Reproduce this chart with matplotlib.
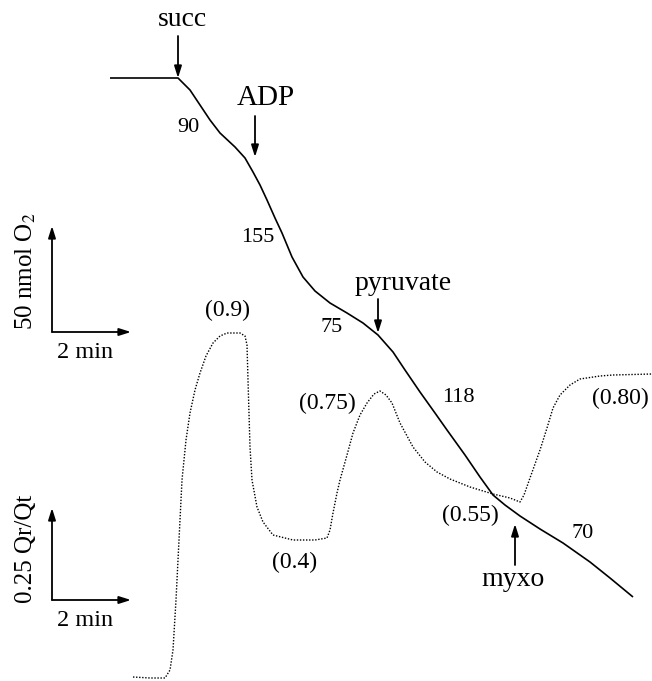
import matplotlib
matplotlib.use('Agg')
import matplotlib.pyplot as plt

plt.rcParams['font.family'] = ['Liberation Serif', 'DejaVu Serif']
plt.rcParams['mathtext.fontset'] = 'stix'

# traces (x = time axis, y = signal, image units)
o2_t = [110, 178, 190, 200, 210, 220, 235, 245, 253, 260, 267, 275, 282, 292,
        303, 315, 330, 347, 363, 378, 393, 405, 420, 435, 447, 465, 480, 493,
        505, 520, 540, 563, 590, 610, 633]
o2_y = [78, 78, 90, 105, 120, 133, 147, 158, 172, 185, 200, 218, 233, 257,
        277, 291, 303, 313, 323, 335, 352, 370, 392, 413, 430, 455, 477, 495,
        505, 516, 529, 543, 562, 578, 597]

q_t = [133, 150, 165, 170, 173, 176, 179, 182, 186, 190, 195, 200, 206, 213,
       220, 227, 240, 245, 247, 248, 250, 252, 257, 263, 273, 293, 315, 327,
       330, 333, 337, 340, 347, 353, 360, 367, 374, 380, 386, 392, 400, 413,
       425, 437, 450, 470, 493, 510, 520, 524, 530, 540, 547, 553, 560, 570,
       580, 600, 613, 652]
q_y = [677, 678, 678, 670, 650, 600, 540, 480, 440, 413, 390, 373, 356, 343,
       336, 333, 333, 336, 345, 380, 447, 480, 507, 522, 535, 540, 540, 538,
       530, 513, 493, 480, 455, 433, 415, 403, 394, 391, 395, 403, 423, 447,
       462, 472, 479, 487, 494, 498, 502, 495, 478, 450, 428, 408, 395, 385,
       379, 376, 375, 374]

rate_labels = ['90', '155', '75', '118', '70']
rate_pos = [(188, 127), (258, 237), (332, 328), (458, 398), (583, 533)]
ratio_labels = ['(0.9)', '(0.75)', '(0.4)', '(0.55)', '(0.80)']
ratio_pos = [(228, 310), (327, 403), (295, 562), (470, 515), (620, 398)]

# additions: name, arrow x, arrow tail y, arrow tip y, text x, text y
additions = [('succ', 178, 36, 78, 182, 19),
             ('ADP', 255, 116, 157, 266, 98),
             ('pyruvate', 378, 299, 333, 403, 283),
             ('myxo', 515, 565, 524, 513, 579)]

fig = plt.figure(figsize=(6.52, 6.81), dpi=100)
ax = fig.add_axes([0, 0, 1, 1])
ax.set_xlim(0, 652)
ax.set_ylim(681, 0)
ax.axis('off')

ax.plot(o2_t, o2_y, color='black', lw=1.2, solid_capstyle='butt')
ax.plot(q_t, q_y, color='black', lw=1.0, linestyle=(0, (1, 1.2)))

arr = dict(arrowstyle='-|>,head_length=0.7,head_width=0.22', color='black',
           lw=1.3, shrinkA=0, shrinkB=0)

for name, x, y0, y1, tx, ty in additions:
    ax.annotate('', xy=(x, y1), xytext=(x, y0), arrowprops=arr)
    ax.text(tx, ty, name, ha='center', va='center',
            fontsize=21 if name == 'ADP' else 20)

for lab, (x, y) in zip(rate_labels, rate_pos):
    ax.text(x, y, lab, ha='center', va='center', fontsize=16)
for lab, (x, y) in zip(ratio_labels, ratio_pos):
    ax.text(x, y, lab, ha='center', va='center', fontsize=17)

# scale bars
for (top, bottom, label, ly) in [(226, 332, '50 nmol O$_2$', 271),
                                 (508, 600, '0.25 Qr/Qt', 549)]:
    ax.annotate('', xy=(52, top), xytext=(52, bottom), arrowprops=arr)
    ax.annotate('', xy=(131, bottom), xytext=(52, bottom), arrowprops=arr)
    ax.text(85, bottom + 20, '2 min', ha='center', va='center', fontsize=17.5)
    ax.text(26, ly, label, ha='center', va='center', rotation=90, fontsize=18)

fig.savefig('out.png', dpi=100)
